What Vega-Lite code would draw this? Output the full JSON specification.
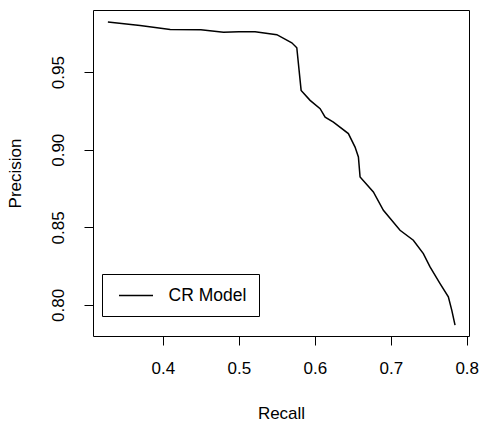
{
  "$schema": "https://vega.github.io/schema/vega-lite/v6.json",
  "width": 376,
  "height": 326,
  "autosize": {"type": "none"},
  "padding": {"left": 93, "top": 10, "right": 10, "bottom": 85},
  "background": "white",
  "config": {
    "font": "Liberation Sans",
    "view": {"stroke": "black", "strokeWidth": 1},
    "axis": {
      "domain": false,
      "grid": false,
      "ticks": true,
      "tickColor": "black",
      "tickSize": 9,
      "tickWidth": 1,
      "labelColor": "black",
      "labelFont": "Liberation Sans",
      "labelFontSize": 17,
      "titleFont": "Liberation Sans",
      "titleFontSize": 17,
      "titleFontWeight": "normal",
      "titleColor": "black"
    },
    "legend": {
      "labelFont": "Liberation Sans",
      "labelFontSize": 17.5,
      "labelColor": "black"
    }
  },
  "data": {
    "values": [
      {"recall": 0.3276, "precision": 0.9822, "series": "CR Model"},
      {"recall": 0.37, "precision": 0.9800, "series": "CR Model"},
      {"recall": 0.4096, "precision": 0.9775, "series": "CR Model"},
      {"recall": 0.45, "precision": 0.9772, "series": "CR Model"},
      {"recall": 0.4798, "precision": 0.9757, "series": "CR Model"},
      {"recall": 0.50, "precision": 0.9760, "series": "CR Model"},
      {"recall": 0.5214, "precision": 0.9760, "series": "CR Model"},
      {"recall": 0.550, "precision": 0.9741, "series": "CR Model"},
      {"recall": 0.5697, "precision": 0.9689, "series": "CR Model"},
      {"recall": 0.5763, "precision": 0.9657, "series": "CR Model"},
      {"recall": 0.582, "precision": 0.9382, "series": "CR Model"},
      {"recall": 0.5938, "precision": 0.9318, "series": "CR Model"},
      {"recall": 0.607, "precision": 0.9264, "series": "CR Model"},
      {"recall": 0.6136, "precision": 0.9210, "series": "CR Model"},
      {"recall": 0.6245, "precision": 0.9178, "series": "CR Model"},
      {"recall": 0.6442, "precision": 0.9104, "series": "CR Model"},
      {"recall": 0.653, "precision": 0.9017, "series": "CR Model"},
      {"recall": 0.6574, "precision": 0.8953, "series": "CR Model"},
      {"recall": 0.6596, "precision": 0.8824, "series": "CR Model"},
      {"recall": 0.6771, "precision": 0.8728, "series": "CR Model"},
      {"recall": 0.6903, "precision": 0.8610, "series": "CR Model"},
      {"recall": 0.7122, "precision": 0.8481, "series": "CR Model"},
      {"recall": 0.7297, "precision": 0.8417, "series": "CR Model"},
      {"recall": 0.7429, "precision": 0.8331, "series": "CR Model"},
      {"recall": 0.7517, "precision": 0.8245, "series": "CR Model"},
      {"recall": 0.7649, "precision": 0.8138, "series": "CR Model"},
      {"recall": 0.7758, "precision": 0.8052, "series": "CR Model"},
      {"recall": 0.7803, "precision": 0.7967, "series": "CR Model"},
      {"recall": 0.7846, "precision": 0.7870, "series": "CR Model"}
    ]
  },
  "mark": {"type": "line", "strokeWidth": 1.5},
  "encoding": {
    "x": {
      "field": "recall",
      "type": "quantitative",
      "scale": {"domain": [0.308, 0.803], "nice": false, "zero": false},
      "axis": {
        "title": "Recall",
        "values": [0.4, 0.5, 0.6, 0.7, 0.8],
        "format": ".1f",
        "labelPadding": 15,
        "titlePadding": 29
      }
    },
    "y": {
      "field": "precision",
      "type": "quantitative",
      "scale": {"domain": [0.780, 0.990], "nice": false, "zero": false},
      "axis": {
        "title": "Precision",
        "values": [0.80, 0.85, 0.90, 0.95],
        "format": ".2f",
        "labelAngle": -90,
        "labelAlign": "center",
        "labelBaseline": "bottom",
        "labelPadding": 17,
        "titlePadding": 25
      }
    },
    "stroke": {
      "field": "series",
      "type": "nominal",
      "scale": {"range": ["black"]},
      "legend": {
        "title": null,
        "orient": "none",
        "legendX": 9,
        "legendY": 264,
        "strokeColor": "black",
        "fillColor": "white",
        "padding": 12,
        "symbolType": "M-2,0H2",
        "symbolSize": 289,
        "symbolStrokeWidth": 1.5,
        "symbolStrokeColor": "black",
        "symbolOffset": 12.5,
        "labelOffset": 23
      }
    }
  }
}
